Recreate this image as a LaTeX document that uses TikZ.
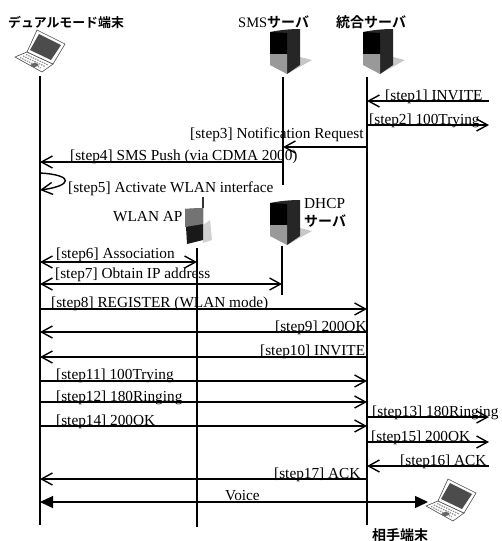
\documentclass[tikz,border=0pt]{standalone}
\usepackage{fontspec}
\usepackage{xcolor}
\setmainfont{Liberation Serif}
\newfontfamily\cjk{Noto Sans CJK JP}[BoldFont={* Bold}]
\usetikzlibrary{arrows.meta}

\tikzset{
  lifeline/.style={line width=1.4pt},
  msg/.style={line width=1.4pt, -{Straight Barb[length=11pt,width=12pt,line width=1.4pt]}},
  msgboth/.style={line width=1.4pt, {Straight Barb[length=11pt,width=12pt,line width=1.4pt]}-{Straight Barb[length=11pt,width=12pt,line width=1.4pt]}},
  voiceline/.style={line width=1.4pt, {Triangle[length=13pt,width=12pt]}-{Triangle[length=13pt,width=12pt]}},
  steplabel/.style={anchor=base west, inner sep=0pt, font=\fontsize{15.3}{17}\selectfont},
  headlabel/.style={anchor=base west, inner sep=0pt, font=\fontsize{14}{16}\selectfont\bfseries},
  pics/laptop/.style={code={
    \fill[white, draw=black!70, line width=0.6pt] (15,57) -- (27,52) -- (53,64) -- (42,72) -- cycle;
    \fill[white, draw=black!70, line width=0.6pt] (37,30) -- (65,44) -- (53,64) -- (27,52) -- cycle;
    \fill[black!70] (39,34) -- (61,45) -- (51,60) -- (30,50) -- cycle;
    \draw[black!45, line width=1.1pt, dash pattern=on 1.5pt off 1pt] (20,57.5) -- (41,68) (23,56) -- (45,66.5) (26,54.5) -- (48,65);
    \fill[black!60] (30,65) -- (35,62.5) -- (39,65) -- (34,67.5) -- cycle;
  }},
  pics/server/.style={code={
    \fill[black!22] (287,74) -- (312,60) -- (300,57) -- cycle;
    \fill[black!85] (270,32) .. controls (280,30) and (290,29) .. (300,29) -- (300,65) -- (287,74) -- (287,35) -- cycle;
    \fill[black] (270,32) -- (287,33) -- (287,54) -- (270,54) -- cycle;
    \fill[black!40] (270,54) -- (287,54) -- (287,74) -- (270,65) -- cycle;
  }},
  pics/wlanbox/.style={code={
    \fill[black!18] (203,243) -- (212,240) -- (210,220) -- (203,225) -- cycle;
    \fill[black!90] (185,209) -- (203,208) -- (203,240) -- (187,244) -- cycle;
    \fill[black!55] (185,209) -- (203,208) -- (203,224) -- (185,227) -- cycle;
    \draw[line width=1.2pt, black!80] (203,208) -- (203,197);
  }}
}

\begin{document}
\begin{tikzpicture}[x=1pt,y=-1pt]
\useasboundingbox (0,0) rectangle (501,541);

% hosts
\pic at (0,0) {laptop};
\pic at (411,449) {laptop};
\pic at (0,0) {server};
\pic at (93,0) {server};
\pic at (0,171) {server};
\pic at (0,0) {wlanbox};

\node[headlabel, font=\fontsize{12.9}{16}\selectfont\bfseries] (termname) at (8,27) {\cjk デュアルモード端末};
\node[headlabel, font=\fontsize{14.5}{16}\selectfont] (smsname) at (238,27) {SMS\fontsize{14}{16}\selectfont\cjk\bfseries サーバ};
\node[headlabel] (srvname) at (336,27) {\cjk 統合サーバ};
\node[steplabel] (apname) at (113,221) {WLAN AP};
\node[steplabel] (dhcpname) at (304,208) {DHCP};
\node[headlabel] (dhcpname2) at (304,226) {\cjk サーバ};
\node[headlabel] (peername) at (372,540) {\cjk 相手端末};

% lifelines
\coordinate (term) at (40,76);
\coordinate (sms) at (283,77);
\coordinate (srv) at (367,77);
\coordinate (ap) at (197,248);
\coordinate (dhcp) at (282,246);
\coordinate (ext) at (489,0);
\coordinate (peer) at (428,0);

\draw[lifeline] (term) -- (40,525);
\draw[lifeline] (sms) -- (283,185);
\draw[lifeline] (srv) -- (367,525);
\draw[lifeline] (ap) -- (197,527);
\draw[lifeline] (dhcp) -- (282,295);

% messages
\foreach \from/\to/\y in {ext/srv/101, srv/ext/125, srv/sms/147, sms/term/162,
    term/srv/309, srv/term/332, srv/term/357, term/srv/381, term/srv/402,
    srv/ext/417, term/srv/426, srv/ext/442, ext/srv/466, srv/term/479}
  \draw[msg] (\from |- 0,\y) -- (\to |- 0,\y);
\draw[msgboth] (term |- 0,262) -- (ap |- 0,262);
\draw[msgboth] (term |- 0,284) -- (dhcp |- 0,284);
\draw[voiceline] (term |- 0,502) -- (peer |- 0,502);
\draw[msg] (term |- 0,173) .. controls (75,175) and (72,186) .. (term |- 0,190);

% labels
\foreach \name/\x/\y/\txt in {
    s1/385/100/{[step1] INVITE},
    s2/369/124/{[step2] 100Trying},
    s3/190/138/{[step3] Notification Request},
    s4/70/160/{[step4] SMS Push (via CDMA 2000)},
    s5/68/192/{[step5] Activate WLAN interface},
    s6/56/258/{[step6] Association},
    s7/55/278/{[step7] Obtain IP address},
    s8/51/307/{[step8] REGISTER (WLAN mode)},
    s9/275/331/{[step9] 200OK},
    s10/260/355/{[step10] INVITE},
    s11/56/379/{[step11] 100Trying},
    s12/56/401/{[step12] 180Ringing},
    s13/372/416/{[step13] 180Ringing},
    s14/56/425/{[step14] 200OK},
    s15/371/441/{[step15] 200OK},
    s16/400/465/{[step16] ACK},
    s17/274/478/{[step17] ACK},
    voice/225/500/{Voice}}
  \node[steplabel] (\name) at (\x,\y) {\txt};
\end{tikzpicture}
\end{document}
